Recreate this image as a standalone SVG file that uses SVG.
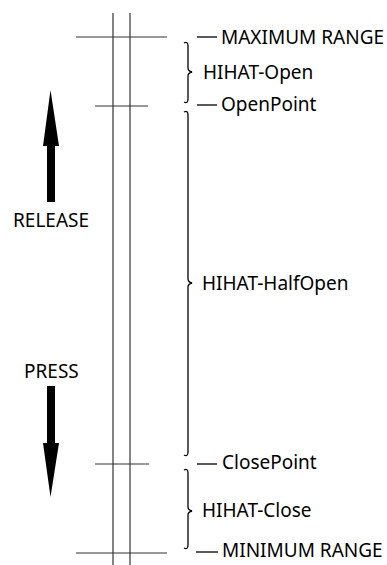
<svg xmlns="http://www.w3.org/2000/svg" width="387" height="565" viewBox="0 0 387 565">
<style>
.ln{stroke:#333;stroke-width:1.2;fill:none}
.br{stroke:#000;stroke-width:1.3;fill:none}
.t{font-family:"Noto Sans","Open Sans",sans-serif;font-size:19px;fill:#000}
</style>
<rect width="387" height="565" fill="#fff"/>
<g id="axis">
<line class="ln" x1="113" y1="13" x2="113" y2="565"/>
<line class="ln" x1="130" y1="13" x2="130" y2="565"/>
</g>
<g id="ticks">
<line class="ln" x1="76" y1="37" x2="167" y2="37"/>
<line class="ln" x1="95" y1="106" x2="148" y2="106"/>
<line class="ln" x1="95" y1="464" x2="149" y2="464"/>
<line class="ln" x1="76" y1="553" x2="167" y2="553"/>
</g>
<g id="max-range"><line class="br" x1="197" y1="37" x2="217" y2="37"/><text class="t" x="221" y="44">MAXIMUM RANGE</text></g>
<g id="open-point"><line class="br" x1="197" y1="105" x2="217" y2="105"/><text class="t" x="221" y="111">OpenPoint</text></g>
<g id="close-point"><line class="br" x1="197" y1="464" x2="217" y2="464"/><text class="t" x="222" y="469">ClosePoint</text></g>
<g id="min-range"><line class="br" x1="196" y1="552" x2="218" y2="552"/><text class="t" x="222" y="557">MINIMUM RANGE</text></g>
<g id="hihat-open">
<path class="br" d="M184,43 Q188,41 188,46 L188,68 Q188,71 192,72 Q188,73 188,76 L188,99 Q188,104 184,102"/>
<text class="t" x="203" y="79">HIHAT-Open</text></g>
<g id="hihat-halfopen">
<path class="br" d="M184,112 Q188,110 188,115 L188,279 Q188,282 192,283 Q188,284 188,287 L188,452 Q188,457 184,455"/>
<text class="t" x="202" y="290">HIHAT-HalfOpen</text></g>
<g id="hihat-close">
<path class="br" d="M184,470 Q188,468 188,473 L188,507 Q188,510 192,511 Q188,512 188,515 L188,545 Q188,550 184,548"/>
<text class="t" x="202" y="517">HIHAT-Close</text></g>
<g id="release">
<polygon points="50.5,90 43,146 47,146 47,202 55,202 55,146 59,146" fill="#000"/>
<text class="t" x="13" y="226.5">RELEASE</text></g>
<g id="press">
<polygon points="47,386 55,386 55,443 59,443 50.5,497 43,443 47,443" fill="#000"/>
<text class="t" x="24" y="378">PRESS</text></g>
</svg>
